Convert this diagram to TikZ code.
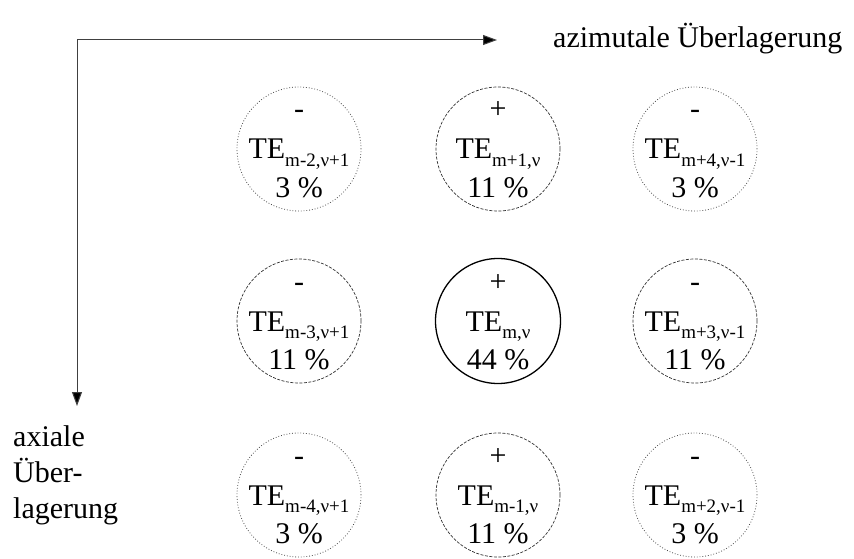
\documentclass[tikz,border=0pt]{standalone}
\usepackage{fontspec}
\setmainfont{Liberation Serif}
\usetikzlibrary{arrows.meta}
\newcommand{\sbx}[1]{\raisebox{-7pt}{\fontsize{19}{19}\selectfont #1}}
\newcommand{\cellnode}[7]{%
  \node[#4] (#1) at (#2,#3) {};
  \node[anchor=base] (#1s) at ([yshift=30pt]#1.center) {#5};
  \node[anchor=base] (#1t) at ([yshift=-10pt]#1.center) {TE\sbx{#6}};
  \node[anchor=base] (#1p) at ([yshift=-48pt]#1.center) {#7};
}
\begin{document}
\begin{tikzpicture}[x=1pt,y=-1pt,
  every node/.style={font=\fontsize{30}{36}\selectfont, inner sep=0pt, text=black},
  ringdot/.style={circle, minimum size=124pt, draw=black!70, line width=0.8pt, dotted},
  ringdash/.style={circle, minimum size=124pt, draw=black!80, line width=0.7pt, dash pattern=on 3pt off 1.5pt},
  ringmain/.style={circle, minimum size=125pt, draw=black, line width=1.3pt},
  axis/.style={draw=black!75, line width=1pt, -{Triangle[length=14pt,width=10pt,fill=black]}}
]
\useasboundingbox (0,0) rectangle (854,559);
\coordinate (o) at (77,40);
\coordinate (ah) at (497,40);
\coordinate (av) at (77,406);
\draw[axis] (o) -- (ah);
\draw[axis] (o) -- (av);
\node[anchor=base west] (az) at (553,48) {azimutale Überlagerung};
\node[anchor=base west] (ax1) at (13,446) {axiale};
\node[anchor=base west] (ax2) at (13,482) {Über-};
\node[anchor=base west] (ax3) at (13,518) {lagerung};
\cellnode{c11}{299}{149}{ringdot}{-}{m-2,ν+1}{3 \%}
\cellnode{c12}{498}{149}{ringdash}{+}{m+1,ν}{11 \%}
\cellnode{c13}{695}{149}{ringdot}{-}{m+4,ν-1}{3 \%}
\cellnode{c21}{299}{321}{ringdash}{-}{m-3,ν+1}{11 \%}
\cellnode{c22}{498}{321}{ringmain}{+}{m,ν}{44 \%}
\cellnode{c23}{695}{321}{ringdash}{-}{m+3,ν-1}{11 \%}
\cellnode{c31}{299}{495}{ringdot}{-}{m-4,ν+1}{3 \%}
\cellnode{c32}{498}{495}{ringdash}{+}{m-1,ν}{11 \%}
\cellnode{c33}{695}{495}{ringdot}{-}{m+2,ν-1}{3 \%}
\end{tikzpicture}
\end{document}
